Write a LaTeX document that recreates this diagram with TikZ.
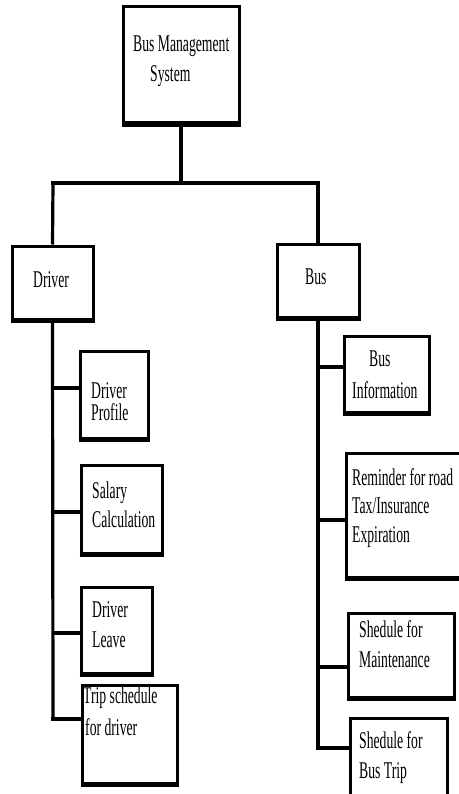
\documentclass[tikz,border=0pt]{standalone}
\usepackage{fontspec}
\newfontfamily\cond[FakeStretch=0.57]{Liberation Serif}
\begin{document}
\begin{tikzpicture}[x=1pt,y=-1pt,
  box/.style={draw=black, line width=3pt, inner sep=0pt, fill=white},
  lbl/.style={anchor=base west, inner sep=0pt, font=\cond\fontsize{24}{28}\selectfont, text=black},
  conn/.style={draw=black, line width=3.2pt}]
\useasboundingbox (0,0) rectangle (458,794);
% boxes
\node[box, minimum width=116pt, minimum height=116pt] (top) at (181,65) {};
\node[box, minimum width=81pt, minimum height=73pt] (driver) at (52.5,282.5) {};
\node[box, minimum width=82pt, minimum height=73pt] (bus) at (318,280.5) {};
\node[box, minimum width=68pt, minimum height=87pt] (dp) at (114,394.5) {};
\node[box, minimum width=81pt, minimum height=88pt] (sc) at (121.5,509) {};
\node[box, minimum width=71pt, minimum height=86pt] (dl) at (116.5,630) {};
\node[box, minimum width=95pt, minimum height=98pt] (ts) at (129.5,734) {};
\node[box, minimum width=85pt, minimum height=76pt] (bi) at (386.5,374) {};
\node[box, minimum width=124pt, minimum height=124pt] (rm) at (408,515) {};
\node[box, minimum width=106pt, minimum height=84pt] (sm) at (401,655) {};
\node[box, minimum width=97pt, minimum height=82pt] (sb) at (398.5,759) {};
\foreach \n in {top,driver,bus,dp,sc,dl,ts,bi,rm,sm,sb}
  \draw[line width=4.5pt] (\n.south west) -- (\n.south east);
% texts
\node[lbl] (t1) at (133,52) {Bus Management};
\node[lbl] (t2) at (150,82) {System};
\node[lbl] (t3) at (33,287) {Driver};
\node[lbl] (t4) at (305,284) {Bus};
\node[lbl] (t5) at (91,398) {Driver};
\node[lbl] (t6) at (91,420) {Profile};
\node[lbl] (t7) at (92,498) {Salary};
\node[lbl] (t8) at (92,527) {Calculation};
\node[lbl] (t9) at (92,617) {Driver};
\node[lbl] (t10) at (92,647) {Leave};
\node[lbl] (t11) at (83,703) {Trip schedule};
\node[lbl] (t12) at (85,735) {for driver};
\node[lbl] (t13) at (369,366) {Bus};
\node[lbl] (t14) at (352,398) {Information};
\node[lbl] (t15) at (352,485) {Reminder for road};
\node[lbl] (t16) at (352,513) {Tax/Insurance};
\node[lbl] (t17) at (352,542) {Expiration};
\node[lbl] (t18) at (359,637) {Shedule for};
\node[lbl] (t19) at (359,667) {Maintenance};
\node[lbl] (t20) at (359,748) {Shedule for};
\node[lbl] (t21) at (359,778) {Bus Trip};
% connectors
\coordinate (bl) at (53,183);
\coordinate (br) at (318,183);
\draw[conn] (top.south) -- (top.south |- bl);
\draw[conn, line width=3.6pt] ([xshift=-1.6pt]bl) -- ([xshift=1.6pt]br);
\draw[conn] (bl) -- (driver.north);
\draw[conn] (br) -- (bus.north);
\coordinate (l1) at (53,388);
\coordinate (l2) at (53,512);
\coordinate (l3) at (53,633);
\coordinate (l4) at (53,719);
\draw[conn] (driver.south) -- (l4);
\draw[conn] (l1) -- (l1 -| dp.west);
\draw[conn] (l2) -- (l2 -| sc.west);
\draw[conn] (l3) -- (l3 -| dl.west);
\draw[conn] ([xshift=-1.6pt]l4) -- (l4 -| ts.west);
\coordinate (r1) at (318,367);
\coordinate (r2) at (318,520);
\coordinate (r3) at (318,667);
\coordinate (r4) at (318,748);
\draw[conn] (bus.south) -- (r4);
\draw[conn] (r1) -- (r1 -| bi.west);
\draw[conn] (r2) -- (r2 -| rm.west);
\draw[conn] (r3) -- (r3 -| sm.west);
\draw[conn] ([xshift=-1.6pt]r4) -- (r4 -| sb.west);
\end{tikzpicture}
\end{document}
